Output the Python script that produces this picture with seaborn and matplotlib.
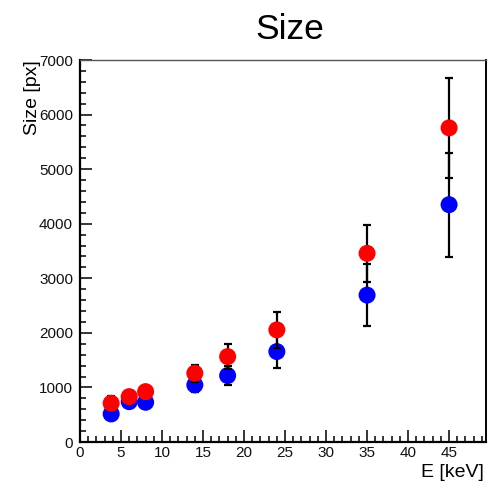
import numpy as np
import pandas as pd
import matplotlib
matplotlib.use("Agg")
import matplotlib.pyplot as plt
from matplotlib.ticker import MultipleLocator
import seaborn as sns

# ---- data ----
energy = [3.8, 6.0, 8.0, 14.0, 18.0, 24.0, 35.0, 45.0]
size_blue = [514, 739, 728, 1046, 1217, 1657, 2692, 4349]
err_blue = [50, 45, 68, 123, 171, 294, 564, 953]
size_red = [710, 831, 923, 1260, 1565, 2055, 3457, 5756]
err_red = [140, 50, 70, 153, 228, 325, 525, 915]
x_ticks = [0, 5, 10, 15, 20, 25, 30, 35, 40, 45]
y_ticks = [0, 1000, 2000, 3000, 4000, 5000, 6000, 7000]

sns.set_style("ticks")
plt.rcParams["font.family"] = ["Liberation Sans", "DejaVu Sans"]
plt.rcParams["text.color"] = "black"
plt.rcParams["axes.labelcolor"] = "black"

df_blue = pd.DataFrame({"E": energy, "Size": size_blue, "err": err_blue})
df_red = pd.DataFrame({"E": energy, "Size": size_red, "err": err_red})

fig = plt.figure(figsize=(4.98, 4.86), dpi=100)
ax = fig.add_axes([80 / 498, 1 - 442 / 486, 406 / 498, 382 / 486])

for i, (df, col) in enumerate([(df_blue, "#0000ff"), (df_red, "#ff0000")]):
    ax.errorbar(df["E"], df["Size"], yerr=df["err"], fmt="none",
                ecolor="black", elinewidth=1.6, capsize=3, capthick=1.6,
                zorder=3 + 2 * i)
    sns.scatterplot(data=df, x="E", y="Size", color=col, s=150,
                    edgecolor="none", linewidth=0, ax=ax, zorder=4 + 2 * i)

ax.set_xlim(0, 49.5)
ax.set_ylim(0, 7000)
ax.set_xticks(x_ticks)
ax.set_yticks(y_ticks)
ax.xaxis.set_minor_locator(MultipleLocator(1))
ax.yaxis.set_minor_locator(MultipleLocator(200))
ax.tick_params(which="both", direction="in", top=False, right=False,
               colors="black", labelcolor="#111111")
ax.tick_params(which="major", length=8.5, width=1.1, labelsize=11)
ax.tick_params(axis="y", which="major", pad=5)
ax.tick_params(axis="x", which="major", pad=3)
ax.tick_params(which="minor", length=4.3, width=1.1)

for side in ["left", "bottom"]:
    ax.spines[side].set_linewidth(1.6)
    ax.spines[side].set_color("black")
ax.spines["right"].set_linewidth(1.4)
ax.spines["right"].set_color("black")
ax.spines["top"].set_linewidth(1.0)
ax.spines["top"].set_color("#555555")

ax.set_xlabel("E [keV]", loc="right", fontsize=14, color="black")
ax.xaxis.set_label_coords(0.995, -0.058)
ax.xaxis.label.set_va("top")
ax.set_ylabel("Size [px]", loc="top", fontsize=14, color="black")
ax.yaxis.set_label_coords(-0.096, 1.0)
ax.set_title("Size", x=0.517, y=1.055, fontsize=25.5, pad=0, color="black")

fig.savefig("out.png", dpi=100)
